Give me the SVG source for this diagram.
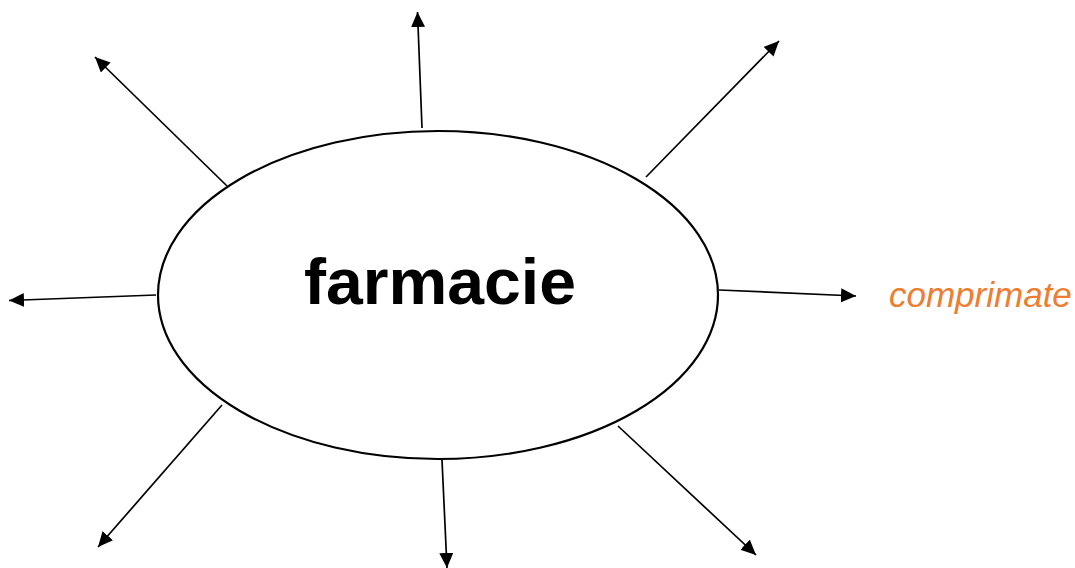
<svg xmlns="http://www.w3.org/2000/svg" width="1075" height="568" viewBox="0 0 1075 568">
<style>
.conn{stroke:#000;stroke-width:1.7;fill:none;marker-end:url(#ah)}
.main{font-family:"Liberation Sans",Arial,sans-serif;font-weight:bold;font-size:64px;fill:#000}
.lbl{font-family:"Liberation Sans",Arial,sans-serif;font-style:italic;font-size:35px;fill:#ED7D31}
</style>
<defs>
<marker id="ah" markerUnits="userSpaceOnUse" markerWidth="16" markerHeight="16" refX="15" refY="7" orient="auto">
<path d="M0,0 L15,7 L0,14 Z" fill="#000"/>
</marker>
</defs>
<rect width="1075" height="568" fill="#fff"/>
<g id="center">
<ellipse cx="438" cy="295" rx="280" ry="164" fill="#fff" stroke="#000" stroke-width="2.2"/>
<text class="main" x="440" y="304" text-anchor="middle" textLength="272" lengthAdjust="spacingAndGlyphs">farmacie</text>
</g>
<g id="connectors">
<line class="conn" x1="422" y1="128" x2="417.5" y2="12"/>
<line class="conn" x1="646" y1="177" x2="779" y2="41"/>
<line class="conn" x1="227" y1="186" x2="95" y2="57"/>
<line class="conn" x1="156" y1="295" x2="9" y2="300.5"/>
<line class="conn" x1="719" y1="290" x2="856" y2="296"/>
<line class="conn" x1="222" y1="405" x2="98" y2="547"/>
<line class="conn" x1="442" y1="460" x2="447" y2="568"/>
<line class="conn" x1="618" y1="426" x2="756" y2="555"/>
</g>
<g id="label-comprimate">
<text class="lbl" x="889" y="307">comprimate</text>
</g>
</svg>
